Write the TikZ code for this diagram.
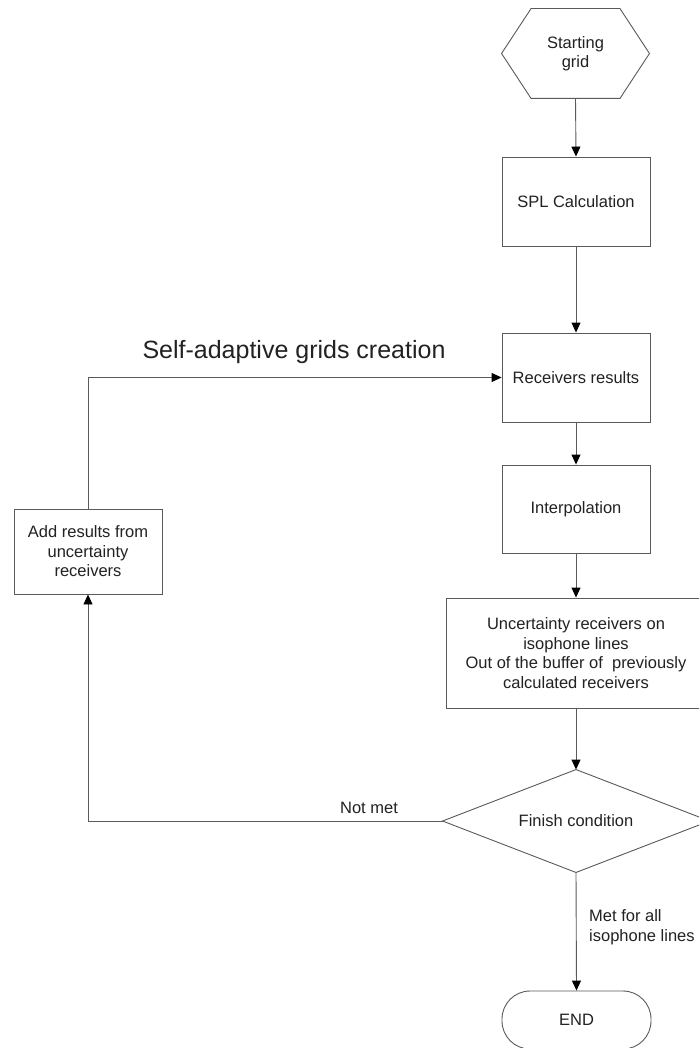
\documentclass[tikz,border=0pt]{standalone}
\usepackage{fontspec}
\setmainfont{Liberation Sans}
\usetikzlibrary{arrows.meta}
\definecolor{linegray}{HTML}{5A5A5A}
\definecolor{txt}{HTML}{222222}
\tikzset{
  box/.style={draw=linegray, line width=0.9pt, rectangle, inner sep=0pt, align=center, text=txt,
              font=\fontsize{16.5}{19.5}\selectfont},
  outline/.style={draw=linegray, line width=0.9pt},
  flow/.style={draw=linegray, line width=0.9pt, -{Triangle[width=9pt,length=10pt,color=black]}},
  lbl/.style={text=txt, font=\fontsize{16.5}{19.5}\selectfont, inner sep=0pt, align=left}
}
\begin{document}
\begin{tikzpicture}[x=1pt,y=-1pt]
\clip (0,0) rectangle (699,1048);
\fill[white] (0,0) rectangle (699,1048);

% start hexagon
\node[box, draw=none, minimum width=147pt, minimum height=89pt] (start) at (575.5,53.5) {Starting\\grid};
\draw[outline] (start.west) -- ([xshift=29.5pt]start.north west) -- ([xshift=-29.5pt]start.north east)
  -- (start.east) -- ([xshift=-29.5pt]start.south east) -- ([xshift=29.5pt]start.south west) -- cycle;

\node[box, minimum width=148pt, minimum height=89pt] (spl) at (576,201.5) {SPL Calculation};
\node[box, minimum width=148pt, minimum height=89pt] (recv) at (576,377.5) {Receivers results};
\node[box, minimum width=148pt, minimum height=88pt] (interp) at (576,509) {Interpolation};
\node[box, minimum width=260pt, minimum height=110pt] (unc) at (576,653)
  {Uncertainty receivers on\\isophone lines\\Out of the buffer of \ previously\\calculated receivers};

% finish diamond
\node[box, draw=none, minimum width=266pt, minimum height=102pt] (finish) at (576,821) {Finish condition};
\draw[outline] (finish.west) -- (finish.north) -- (finish.east) -- (finish.south) -- cycle;

\node[box, minimum width=148pt, minimum height=85pt] (addres) at (88,551.5) {Add results from\\uncertainty\\receivers};
\node[box, minimum width=149pt, minimum height=58pt, rounded corners=28pt] (endn) at (576.5,1020) {END};

\node[text=txt, font=\fontsize{25}{29}\selectfont, inner sep=0pt] (title) at (294,352) {Self-adaptive grids creation};
\node[lbl] (notmet) at (369,808) {Not met};
\node[lbl, anchor=west] (met) at (589,927) {Met for all\\isophone lines};

\draw[flow] (start.south) -- (spl.north);
\draw[flow] (spl.south) -- (recv.north);
\draw[flow] (recv.south) -- (interp.north);
\draw[flow] (interp.south) -- (unc.north);
\draw[flow] (unc.south) -- (finish.north);
\draw[flow] (finish.south) -- (endn.north);
\draw[flow] (finish.west) -| (addres.south);
\draw[flow] (addres.north) |- (recv.west);
\end{tikzpicture}
\end{document}
